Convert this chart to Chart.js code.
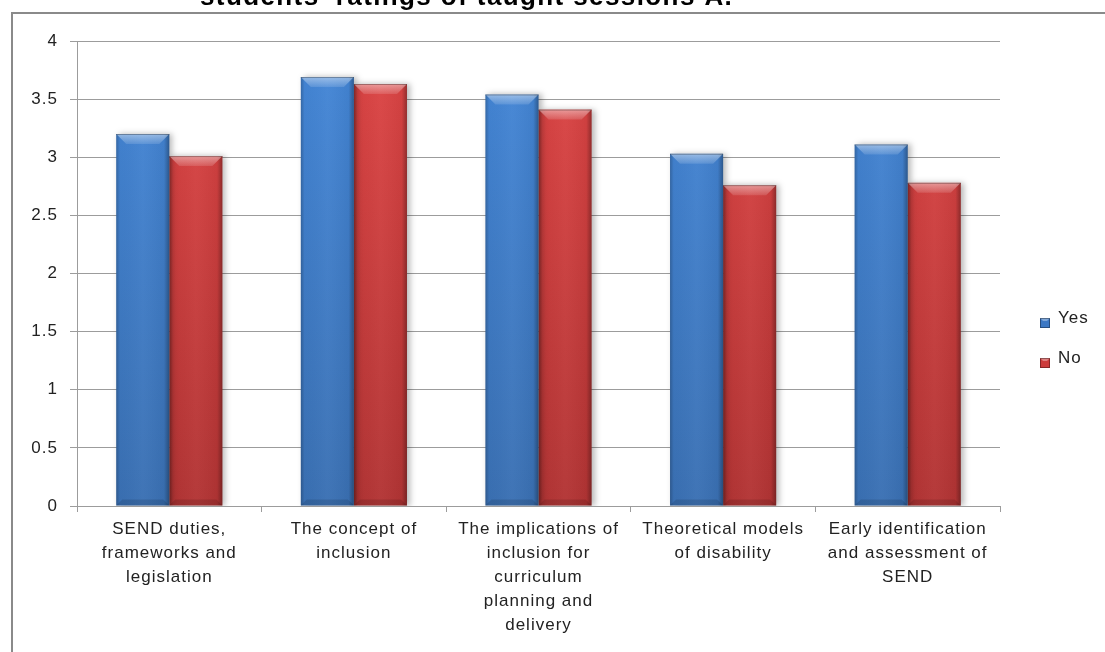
<!DOCTYPE html>
<html>
<head>
<meta charset="utf-8">
<script src="https://cdn.jsdelivr.net/npm/chart.js@4.4.1/dist/chart.umd.min.js"></script>
<style>
  html, body { margin: 0; padding: 0; background: #fff; }
  #wrap { width: 1105px; height: 652px; position: relative; }
</style>
</head>
<body>
<div id="wrap"><canvas id="chart" width="1105" height="652"></canvas></div>
<script>
// data
const chartTitle = "students' ratings of taught sessions A.";
const categories = [
    ['SEND duties,', 'frameworks and', 'legislation'],
    ['The concept of', 'inclusion'],
    ['The implications of', 'inclusion for', 'curriculum', 'planning and', 'delivery'],
    ['Theoretical models', 'of disability'],
    ['Early identification', 'and assessment of', 'SEND']
];
const seriesNames = ['Yes', 'No'];
const yesValues = [3.2, 3.69, 3.54, 3.03, 3.11];
const noValues = [3.01, 3.63, 3.41, 2.76, 2.78];
const yMin = 0;
const yMax = 4;
const yStep = 0.5;

const FONT = '"Liberation Sans", Arial, sans-serif';
const GRID = '#9c9c9c';

// vertical gradient across the plot area
function barFill(topColor, bottomColor) {
    return (context) => {
        const area = context.chart.chartArea;
        if (!area) return bottomColor;
        const g = context.chart.ctx.createLinearGradient(0, area.top, 0, area.bottom);
        g.addColorStop(0, topColor);
        g.addColorStop(1, bottomColor);
        return g;
    };
}

const spacingPlugin = {
    id: 'spacing',
    beforeUpdate(chart) { chart.ctx.letterSpacing = '1px'; },
    beforeDraw(chart) { chart.ctx.letterSpacing = '1px'; }
};

const framePlugin = {
    id: 'frame',
    beforeDraw(chart) {
        const ctx = chart.ctx;
        ctx.save();
        ctx.strokeStyle = '#8a8a8a';
        ctx.lineWidth = 2;
        ctx.beginPath();
        ctx.moveTo(12, chart.height);
        ctx.lineTo(12, 13);
        ctx.lineTo(chart.width, 13);
        ctx.stroke();
        ctx.restore();
    },
    afterDraw(chart) {
        const ctx = chart.ctx;
        ctx.save();
        ctx.letterSpacing = '1.4px';
        ctx.font = 'bold 26px ' + FONT;
        ctx.fillStyle = '#000';
        ctx.textAlign = 'left';
        ctx.textBaseline = 'alphabetic';
        ctx.fillText(chartTitle, 200, 5);
        ctx.restore();
    }
};

// bevel + shadow look of the office style bars
const bevelPlugin = {
    id: 'bevel',
    beforeDatasetsDraw(chart) {
        const ctx = chart.ctx;
        ctx.save();
        ctx.shadowColor = 'rgba(0,0,0,0.28)';
        ctx.shadowBlur = 6;
        ctx.shadowOffsetX = 3;
        ctx.shadowOffsetY = 0;
    },
    afterDatasetsDraw(chart) {
        const ctx = chart.ctx;
        ctx.restore();
        ctx.save();
        chart.data.datasets.forEach((ds, i) => {
            const meta = chart.getDatasetMeta(i);
            if (meta.hidden) return;
            meta.data.forEach(bar => {
                const p = bar.getProps(['x', 'y', 'base', 'width'], true);
                const l = p.x - p.width / 2, r = p.x + p.width / 2;
                const t = p.y, b = p.base;
                const h = Math.min(10, (b - t) / 2);

                const side = ctx.createLinearGradient(l, 0, r, 0);
                side.addColorStop(0, 'rgba(0,0,0,0.22)');
                side.addColorStop(0.07, 'rgba(0,0,0,0.02)');
                side.addColorStop(0.5, 'rgba(255,255,255,0.03)');
                side.addColorStop(0.9, 'rgba(0,0,0,0.04)');
                side.addColorStop(1, 'rgba(0,0,0,0.32)');
                ctx.fillStyle = side;
                ctx.fillRect(l, t, r - l, b - t);

                // top bevel
                const topG = ctx.createLinearGradient(0, t, 0, t + h);
                topG.addColorStop(0, 'rgba(255,255,255,0.45)');
                topG.addColorStop(1, 'rgba(255,255,255,0.12)');
                ctx.fillStyle = topG;
                ctx.beginPath();
                ctx.moveTo(l, t);
                ctx.lineTo(r, t);
                ctx.lineTo(r - h, t + h);
                ctx.lineTo(l + h, t + h);
                ctx.closePath();
                ctx.fill();

                // bottom bevel
                ctx.fillStyle = 'rgba(0,0,0,0.12)';
                ctx.beginPath();
                ctx.moveTo(l, b);
                ctx.lineTo(r, b);
                ctx.lineTo(r - 6, b - 6);
                ctx.lineTo(l + 6, b - 6);
                ctx.closePath();
                ctx.fill();

                ctx.strokeStyle = 'rgba(0,0,0,0.3)';
                ctx.lineWidth = 1;
                ctx.beginPath();
                ctx.moveTo(l, t + 0.5);
                ctx.lineTo(r, t + 0.5);
                ctx.stroke();
            });
        });
        ctx.restore();
    }
};

const legendPlugin = {
    id: 'sideLegend',
    afterDraw(chart) {
        const ctx = chart.ctx;
        ctx.save();
        ctx.letterSpacing = '1px';
        ctx.font = '17px ' + FONT;
        ctx.textAlign = 'left';
        ctx.textBaseline = 'alphabetic';
        chart.data.datasets.forEach((ds, i) => {
            const baseY = 323 + i * 40;
            ctx.fillStyle = ds.swatch;
            ctx.fillRect(1040, baseY - 5, 10, 10);
            ctx.fillStyle = 'rgba(255,255,255,0.35)';
            ctx.beginPath();
            ctx.moveTo(1040, baseY - 5);
            ctx.lineTo(1050, baseY - 5);
            ctx.lineTo(1047, baseY - 2);
            ctx.lineTo(1043, baseY - 2);
            ctx.closePath();
            ctx.fill();
            ctx.strokeStyle = 'rgba(0,0,0,0.35)';
            ctx.lineWidth = 1;
            ctx.strokeRect(1040.5, baseY - 4.5, 9, 9);
            ctx.fillStyle = '#222';
            ctx.fillText(ds.label, 1058, baseY);
        });
        ctx.restore();
    }
};

new Chart(document.getElementById('chart'), {
    type: 'bar',
    data: {
        labels: categories,
        datasets: [
            {
                label: seriesNames[0],
                data: yesValues,
                backgroundColor: barFill('#4487d8', '#3a70b3'),
                swatch: '#3c78c4',
                borderWidth: 0
            },
            {
                label: seriesNames[1],
                data: noValues,
                backgroundColor: barFill('#de4545', '#b23434'),
                swatch: '#cc3c3c',
                borderWidth: 0
            }
        ]
    },
    options: {
        responsive: false,
        animation: false,
        layout: { padding: { top: 41, right: 105, bottom: 0, left: 0 } },
        datasets: {
            bar: { categoryPercentage: 0.575, barPercentage: 1.0 }
        },
        scales: {
            x: {
                afterFit(scale) { scale.height = 146; },
                grid: {
                    offset: true,
                    drawOnChartArea: false,
                    drawTicks: true,
                    tickLength: 6,
                    color: GRID
                },
                border: { color: GRID, width: 1 },
                ticks: {
                    maxRotation: 0,
                    minRotation: 0,
                    autoSkip: false,
                    padding: 5,
                    color: '#222',
                    font: { family: FONT, size: 17, lineHeight: 1.41 }
                }
            },
            y: {
                min: yMin,
                max: yMax,
                afterFit(scale) { scale.width = 77; },
                grid: { color: GRID, tickLength: 7 },
                border: { color: GRID, width: 1 },
                ticks: {
                    stepSize: yStep,
                    padding: 12,
                    color: '#222',
                    font: { family: FONT, size: 17 },
                    callback: (value) => String(value)
                }
            }
        },
        plugins: {
            legend: { display: false },
            tooltip: { enabled: false },
            title: { display: false }
        }
    },
    plugins: [spacingPlugin, framePlugin, bevelPlugin, legendPlugin]
});
</script>
</body>
</html>
